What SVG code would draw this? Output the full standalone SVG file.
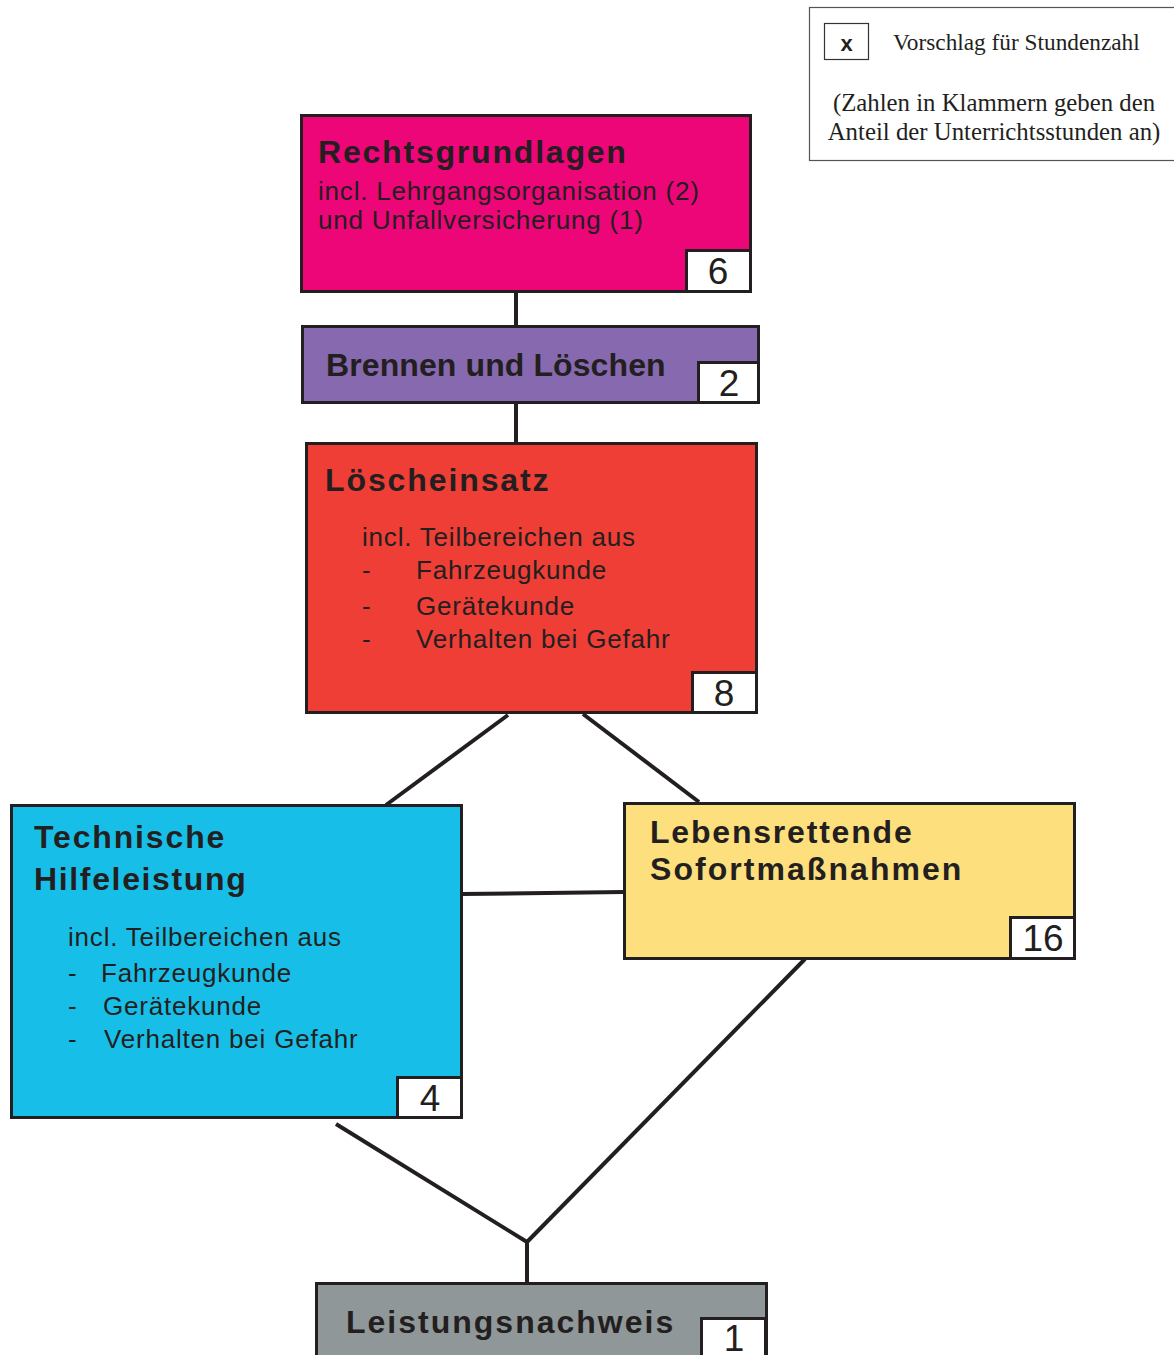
<svg xmlns="http://www.w3.org/2000/svg" width="1174" height="1355" viewBox="0 0 1174 1355">
<style>
.box{stroke:#231f20;stroke-width:3}
.num{fill:#fff;stroke:#231f20;stroke-width:3}
.t{font-family:"Liberation Sans",Arial,sans-serif;font-weight:bold;font-size:32px;fill:#231f20}
.s{font-family:"Liberation Sans",Arial,sans-serif;font-size:26px;fill:#231f20;letter-spacing:0.8px}
.n{font-family:"Liberation Sans",Arial,sans-serif;font-size:37px;fill:#231f20;text-anchor:middle}
.lg{font-family:"Liberation Serif","Times New Roman",serif;font-size:24.8px;fill:#231f20}
.c{stroke:#231f20;stroke-width:4;fill:none}
</style>
<rect width="1174" height="1355" fill="#fff"/>
<g id="legend">
<rect x="809.5" y="7.5" width="380" height="153" fill="#fff" stroke="#555" stroke-width="1.2"/>
<rect x="824.5" y="23.5" width="44" height="36" fill="#fff" stroke="#333" stroke-width="1.2"/>
<text x="846.5" y="51" font-family="Liberation Sans,Arial,sans-serif" font-weight="bold" font-size="22" text-anchor="middle" fill="#231f20">x</text>
<text class="lg" x="893" y="50" style="font-size:23.3px">Vorschlag für Stundenzahl</text>
<text class="lg" x="994" y="111" text-anchor="middle">(Zahlen in Klammern geben den</text>
<text class="lg" x="994" y="140" text-anchor="middle">Anteil der Unterrichtsstunden an)</text>
</g>
<g id="connectors">
<line class="c" x1="516" y1="292" x2="516" y2="326"/>
<line class="c" x1="516" y1="403" x2="516" y2="443"/>
<line class="c" x1="508" y1="715" x2="386" y2="805"/>
<line class="c" x1="583" y1="714" x2="699" y2="802"/>
<line class="c" x1="462" y1="894" x2="624" y2="892"/>
<line class="c" x1="336" y1="1124" x2="527" y2="1242"/>
<line class="c" x1="805" y1="959" x2="527" y2="1242"/>
<line class="c" x1="527" y1="1241" x2="527" y2="1283"/>
</g>
<g id="rechtsgrundlagen">
<rect class="box" x="301.5" y="115.5" width="449" height="176" fill="#ec0677"/>
<text class="t" x="318" y="163" letter-spacing="1.8">Rechtsgrundlagen</text>
<text class="s" x="318" y="200">incl. Lehrgangsorganisation (2)</text>
<text class="s" x="318" y="229">und Unfallversicherung (1)</text>
<rect class="num" x="686.5" y="250.5" width="64" height="41"/>
<text class="n" x="718" y="284">6</text>
</g>
<g id="brennen">
<rect class="box" x="302.5" y="326.5" width="456" height="76" fill="#8669ae"/>
<text class="t" x="326" y="376" letter-spacing="0.1">Brennen und Löschen</text>
<rect class="num" x="698.5" y="362.5" width="60" height="40"/>
<text class="n" x="729" y="396">2</text>
</g>
<g id="loescheinsatz">
<rect class="box" x="306.5" y="443.5" width="450" height="269" fill="#ee3e36"/>
<text class="t" x="325" y="491" letter-spacing="1.9">Löscheinsatz</text>
<text class="s" x="362" y="546">incl. Teilbereichen aus</text>
<text class="s" x="362" y="579">-</text>
<text class="s" x="416" y="579">Fahrzeugkunde</text>
<text class="s" x="362" y="615">-</text>
<text class="s" x="416" y="615">Gerätekunde</text>
<text class="s" x="362" y="648">-</text>
<text class="s" x="416" y="648">Verhalten bei Gefahr</text>
<rect class="num" x="692.5" y="672.5" width="64" height="40"/>
<text class="n" x="724" y="706">8</text>
</g>
<g id="technische">
<rect class="box" x="11.5" y="805.5" width="450" height="312" fill="#17bfe8"/>
<text class="t" x="34" y="848" letter-spacing="1.85">Technische</text>
<text class="t" x="34" y="890" letter-spacing="1.65">Hilfeleistung</text>
<text class="s" x="68" y="946">incl. Teilbereichen aus</text>
<text class="s" x="68" y="982">-</text>
<text class="s" x="101" y="982">Fahrzeugkunde</text>
<text class="s" x="68" y="1015">-</text>
<text class="s" x="103" y="1015">Gerätekunde</text>
<text class="s" x="68" y="1048">-</text>
<text class="s" x="104" y="1048">Verhalten bei Gefahr</text>
<rect class="num" x="397.5" y="1077.5" width="64" height="40"/>
<text class="n" x="430" y="1111">4</text>
</g>
<g id="lebensrettende">
<rect class="box" x="624.5" y="803.5" width="450" height="155" fill="#fedf7e"/>
<text class="t" x="650" y="843" letter-spacing="1.8">Lebensrettende</text>
<text class="t" x="650" y="880" letter-spacing="2.05">Sofortmaßnahmen</text>
<rect class="num" x="1010.5" y="917.5" width="64" height="41"/>
<text class="n" x="1043" y="951">16</text>
</g>
<g id="leistungsnachweis">
<rect class="box" x="316.5" y="1283.5" width="450" height="90" fill="#8f9799"/>
<text class="t" x="346" y="1333" letter-spacing="2">Leistungsnachweis</text>
<rect class="num" x="701.5" y="1318.5" width="64" height="60"/>
<text class="n" x="734" y="1351">1</text>
</g>
</svg>
